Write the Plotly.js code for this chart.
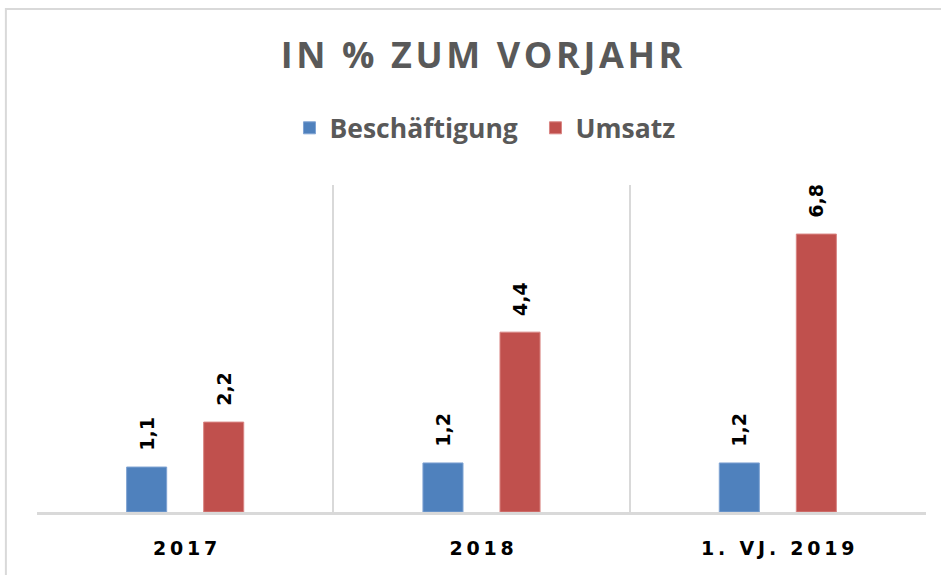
<!DOCTYPE html>
<html>
<head>
<meta charset="utf-8">
<script src="https://cdn.plot.ly/plotly-3.0.1.min.js"></script>
<style>
html,body{margin:0;padding:0;background:#fff;}
#chart{width:941px;height:575px;}
</style>
</head>
<body>
<div id="chart"></div>
<script>
const categories = ["2017", "2018", "1. VJ. 2019"];
const beschaeftigung = [1.1, 1.2, 1.2];
const umsatz = [2.2, 4.4, 6.8];
const seriesNames = ["Beschäftigung", "Umsatz"];
const chartTitle = "IN % ZUM VORJAHR";

const spaced = (s, sp) => s.split("").join(sp);
const fmt = v => v.toFixed(1).replace(".", ",");
const labelFont = {family: "DejaVu Sans", size: 19, color: "#000000", weight: "bold"};

function barTrace(name, values, color, edge) {
  return {
    type: "bar",
    name: name,
    x: categories,
    y: values,
    text: values.map(fmt),
    texttemplate: "\u00a0\u00a0%{text}",
    textposition: "outside",
    textangle: -90,
    constraintext: "none",
    cliponaxis: false,
    textfont: labelFont,
    marker: {color: color, line: {color: edge, width: 1}},
    hoverinfo: "none"
  };
}

const data = [
  barTrace(seriesNames[0], beschaeftigung, "#4F81BD", "#7FA3D3"),
  barTrace(seriesNames[1], umsatz, "#C0504D", "#D98583")
];

const layout = {
  width: 941,
  height: 575,
  margin: {l: 37, r: 15, t: 185, b: 63},
  paper_bgcolor: "#ffffff",
  plot_bgcolor: "#ffffff",
  showlegend: true,
  barmode: "group",
  bargap: 0.48,
  bargroupgap: 0.48,
  title: {
    text: "<b>" + spaced(chartTitle, "\u200a") + "</b>",
    font: {family: "Open Sans", size: 36, color: "#595959"},
    x: 0.5, xref: "paper", xanchor: "center",
    y: 0.903, yref: "container", yanchor: "middle"
  },
  legend: {
    orientation: "h",
    x: 0.284, xanchor: "left",
    y: 1.174, yanchor: "middle",
    entrywidth: 201,
    entrywidthmode: "pixels",
    font: {family: "Open Sans", size: 26.5, color: "#595959", weight: "bold"},
    itemclick: false
  },
  xaxis: {
    type: "category",
    tickmode: "array",
    tickvals: categories,
    ticktext: categories.map(c => spaced(c, "\u2009")),
    tickson: "boundaries",
    ticks: "",
    ticklabelstandoff: 17,
    showgrid: true,
    gridcolor: "#D9D9D9",
    gridwidth: 2,
    showline: true,
    linecolor: "#D9D9D9",
    linewidth: 3,
    tickfont: labelFont,
    range: [-0.5, 2.5],
    fixedrange: true
  },
  yaxis: {
    range: [0, 8],
    showgrid: false,
    zeroline: false,
    showticklabels: false,
    showline: false,
    fixedrange: true
  },
  shapes: [{
    type: "rect", xref: "paper", yref: "paper",
    x0: -0.035, x1: 1.05, y0: -0.4, y1: 1.538,
    line: {color: "#D9D9D9", width: 2},
    layer: "below"
  }]
};

Plotly.newPlot("chart", data, layout, {displayModeBar: false, staticPlot: true});
</script>
</body>
</html>
